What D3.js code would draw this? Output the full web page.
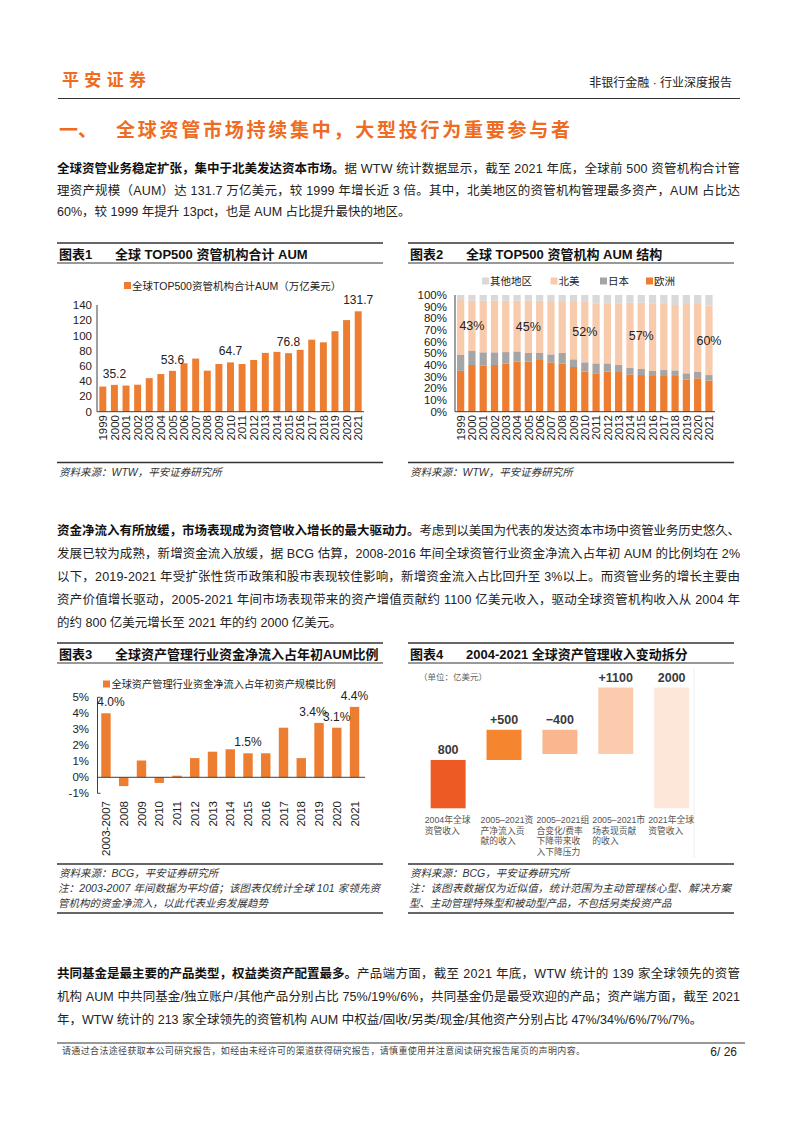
<!DOCTYPE html>
<html><head><meta charset="utf-8">
<script src="https://cdn.jsdelivr.net/npm/d3@7/dist/d3.min.js"></script>
<style>
html,body{margin:0;padding:0;background:#fff;}
svg{display:block;}
text{font-family:"Liberation Sans","Noto Sans CJK SC",sans-serif;}
</style></head><body>
<svg id="page" width="802" height="1133"></svg>
<script>
// ---------------- DATA ----------------
const years = ["1999","2000","2001","2002","2003","2004","2005","2006","2007","2008","2009","2010","2011","2012","2013","2014","2015","2016","2017","2018","2019","2020","2021"];
const aumTotal = [33.0,35.2,34.3,35.4,44.0,49.4,53.6,63.5,69.7,53.8,62.6,64.7,62.6,67.9,77.2,78.5,76.8,81.2,94.5,91.0,105.6,120.2,131.7];
const aumLabelYears = ["2000","2005","2010","2015","2021"];
const aumTicks = [0,20,40,60,80,100,120,140];

const regionKeys = ["欧洲","日本","北美","其他地区"];
const legendOrder = ["其他地区","北美","日本","欧洲"];
const shareEurope = [35.0,40.0,39.7,40.0,41.4,42.9,43.1,44.3,42.3,41.4,38.3,34.3,32.9,34.3,34.0,32.0,31.4,30.6,30.6,30.6,27.7,28.6,26.6];
const shareJapan  = [13.6,12.0,11.2,10.9,9.7,8.8,7.2,6.0,6.8,8.9,6.6,8.0,8.5,7.1,6.0,5.7,5.2,4.3,5.1,4.8,5.2,5.4,4.8];
const shareNA     = [47.1,43.1,44.2,44.2,44.0,43.4,44.8,44.8,44.9,43.7,49.1,51.8,51.5,51.5,52.9,55.7,56.8,58.0,57.2,56.0,59.4,58.3,59.6];
const shareOther  = [4.3,4.9,4.9,4.9,4.9,4.9,4.9,4.9,6.0,6.0,6.0,5.9,7.1,7.1,7.1,6.6,6.6,7.1,7.1,8.6,7.7,7.7,9.0];
const naLabelYears = ["2000","2005","2010","2015","2021"];
const shareTicks = [0,10,20,30,40,50,60,70,80,90,100];

const flowCats = ["2003-2007","2008","2009","2010","2011","2012","2013","2014","2015","2016","2017","2018","2019","2020","2021"];
const flowValues = [4.0,-0.55,1.05,-0.35,0.1,1.2,1.6,1.75,1.5,1.5,3.1,1.2,3.4,3.1,4.4];
const flowLabelCats = ["2003-2007","2015","2019","2020","2021"];
const flowTicks = [-1,0,1,2,3,4,5];

const wfCats = [["2004年全球","资管收入"],["2005–2021资","产净流入贡","献的收入"],["2005–2021组","合变化/费率","下降带来收","入下降压力"],["2005–2021市","场表现贡献","的收入"],["2021年全球","资管收入"]];
const wfValues = [800,500,-400,1100,2000];
const wfTypes = ["total","delta","delta","delta","total"];

// ---------------- STYLE ----------------
const ORANGE = "#EE6B21";
const BAR = "#ED7D31";
const regionColors = {"欧洲":"#ED7D31","日本":"#A5A5A5","北美":"#F8CBAD","其他地区":"#D9D9D9"};
const wfColors = ["#EE5A24","#F5862F","#F9B68F","#FCCBAD","#FDE7D9"];
const TXT = "#222";

const svg = d3.select("#page");
svg.append("rect").attr("width",802).attr("height",1133).attr("fill","#fff");

// ---------------- HEADER ----------------
svg.append("text").attr("x",62).attr("y",86).attr("font-size",17).attr("font-weight","bold")
  .attr("fill",ORANGE).attr("textLength",84).attr("lengthAdjust","spacing").text("平安证券");
svg.append("text").attr("x",732).attr("y",87).attr("font-size",12).attr("text-anchor","end")
  .attr("fill",TXT).text("非银行金融 · 行业深度报告");
svg.append("line").attr("x1",58).attr("x2",740).attr("y1",98.5).attr("y2",98.5).attr("stroke","#333").attr("stroke-width",1.2);

svg.append("text").attr("x",59).attr("y",137).attr("font-size",19).attr("font-weight","bold").attr("fill",ORANGE).text("一、");
svg.append("text").attr("x",116).attr("y",137).attr("font-size",19).attr("font-weight","bold").attr("fill",ORANGE)
  .attr("textLength",454).attr("lengthAdjust","spacing").text("全球资管市场持续集中，大型投行为重要参与者");

// ---------------- PARAGRAPHS ----------------
function para(lines, y0, lh){
  const x0 = 57, x1 = 740;
  lines.forEach((ln,i)=>{
    const y = y0 + i*lh;
    let x = x0;
    if(ln.b){
      const t = svg.append("text").attr("x",x0).attr("y",y).attr("font-size",12.5).attr("font-weight","bold").attr("fill","#111").text(ln.b);
      x = x0 + t.node().getComputedTextLength();
    }
    const t2 = svg.append("text").attr("x",x).attr("y",y).attr("font-size",12.5).attr("fill",TXT).text(ln.t);
    if(ln.j) t2.attr("textLength", x1 - x).attr("lengthAdjust","spacing");
  });
}
para([
  {b:"全球资管业务稳定扩张，集中于北美发达资本市场。", t:"据 WTW 统计数据显示，截至 2021 年底，全球前 500 资管机构合计管", j:true},
  {t:"理资产规模（AUM）达 131.7 万亿美元，较 1999 年增长近 3 倍。其中，北美地区的资管机构管理最多资产，AUM 占比达", j:true},
  {t:"60%，较 1999 年提升 13pct，也是 AUM 占比提升最快的地区。"}
], 173, 21.7);
para([
  {b:"资金净流入有所放缓，市场表现成为资管收入增长的最大驱动力。", t:"考虑到以美国为代表的发达资本市场中资管业务历史悠久、", j:true},
  {t:"发展已较为成熟，新增资金流入放缓，据 BCG 估算，2008-2016 年间全球资管行业资金净流入占年初 AUM 的比例均在 2%", j:true},
  {t:"以下，2019-2021 年受扩张性货币政策和股市表现较佳影响，新增资金流入占比回升至 3%以上。而资管业务的增长主要由", j:true},
  {t:"资产价值增长驱动，2005-2021 年间市场表现带来的资产增值贡献约 1100 亿美元收入，驱动全球资管机构收入从 2004 年", j:true},
  {t:"的约 800 亿美元增长至 2021 年的约 2000 亿美元。"}
], 535, 23);
para([
  {b:"共同基金是最主要的产品类型，权益类资产配置最多。", t:"产品端方面，截至 2021 年底，WTW 统计的 139 家全球领先的资管", j:true},
  {t:"机构 AUM 中共同基金/独立账户/其他产品分别占比 75%/19%/6%，共同基金仍是最受欢迎的产品；资产端方面，截至 2021", j:true},
  {t:"年，WTW 统计的 213 家全球领先的资管机构 AUM 中权益/固收/另类/现金/其他资产分别占比 47%/34%/6%/7%/7%。"}
], 978, 23);

// ---------------- CHART FRAME ----------------
function frame(x0, x1, yTop, num, title, yBottom, source, note){
  svg.append("line").attr("x1",x0).attr("x2",x1).attr("y1",yTop).attr("y2",yTop).attr("stroke","#333").attr("stroke-width",1.3);
  svg.append("text").attr("x",x0+2).attr("y",yTop+16).attr("font-size",13).attr("font-weight","bold").attr("fill","#111").text(num);
  svg.append("text").attr("x",x0+58).attr("y",yTop+16).attr("font-size",13).attr("font-weight","bold").attr("fill","#111").text(title);
  svg.append("line").attr("x1",x0).attr("x2",x1).attr("y1",yTop+20).attr("y2",yTop+20).attr("stroke","#333").attr("stroke-width",1);
  svg.append("line").attr("x1",x0).attr("x2",x1).attr("y1",yBottom).attr("y2",yBottom).attr("stroke","#333").attr("stroke-width",1.3);
  svg.append("text").attr("x",x0+2).attr("y",yBottom+13).attr("font-size",10.5).attr("font-style","italic").attr("fill","#333").text(source);
  if(note){
    note.forEach((n,i)=>{
      const t = svg.append("text").attr("x",x0+1).attr("y",yBottom+28+i*14.5).attr("font-size",10.5).attr("font-style","italic").attr("fill","#333").text(n);
      if(i===0) t.attr("textLength", x1-x0-4).attr("lengthAdjust","spacing");
    });
    svg.append("line").attr("x1",x0).attr("x2",x1).attr("y1",yBottom+49).attr("y2",yBottom+49).attr("stroke","#333").attr("stroke-width",1.3);
  }
}
frame(57,383,243,"图表1","全球 TOP500 资管机构合计 AUM",462.5,"资料来源：WTW，平安证券研究所");
frame(408,734,243,"图表2","全球 TOP500 资管机构 AUM 结构",462.5,"资料来源：WTW，平安证券研究所");
frame(57,383,643,"图表3","全球资产管理行业资金净流入占年初AUM比例",864,"资料来源：BCG，平安证券研究所",
  ["注：2003-2007 年间数据为平均值；该图表仅统计全球 101 家领先资","管机构的资金净流入，以此代表业务发展趋势"]);
frame(408,734,643,"图表4","2004-2021 全球资产管理收入变动拆分",864,"资料来源：BCG，平安证券研究所",
  ["注：该图表数据仅为近似值，统计范围为主动管理核心型、解决方案","型、主动管理特殊型和被动型产品，不包括另类投资产品"]);

const AX = "#404040";
function rotatedX(g, scale, cats, yTop){
  g.selectAll(null).data(cats).join("text")
    .attr("transform", d=>`translate(${scale(d)+scale.bandwidth()/2},${yTop}) rotate(-90)`)
    .attr("text-anchor","end").attr("dy","0.36em").attr("font-size",11.5).attr("fill",TXT).text(d=>d);
}

// ---------------- CHART 1 ----------------
{
  const g = svg.append("g");
  const x = d3.scaleBand().domain(years).range([97,364]).paddingInner(0.4).paddingOuter(0.2);
  const y = d3.scaleLinear().domain([0,140]).range([411.7,305]);
  g.selectAll(null).data(aumTicks).join("text").attr("x",92).attr("y",d=>y(d)).attr("dy","0.35em")
    .attr("text-anchor","end").attr("font-size",11.5).attr("fill",TXT).text(d=>d);
  g.selectAll(null).data(years).join("rect").attr("x",d=>x(d)).attr("width",x.bandwidth())
    .attr("y",(d,i)=>y(aumTotal[i])).attr("height",(d,i)=>y(0)-y(aumTotal[i])).attr("fill",BAR);
  g.append("line").attr("x1",97).attr("x2",97).attr("y1",y(140)).attr("y2",y(0)).attr("stroke",AX);
  g.append("line").attr("x1",97).attr("x2",364).attr("y1",y(0)).attr("y2",y(0)).attr("stroke",AX);
  g.selectAll(null).data(aumLabelYears).join("text").attr("x",d=>x(d)+x.bandwidth()/2)
    .attr("y",d=>y(aumTotal[years.indexOf(d)])-7).attr("text-anchor","middle").attr("font-size",12).attr("fill",TXT)
    .text(d=>aumTotal[years.indexOf(d)].toFixed(1));
  rotatedX(g, x, years, 415);
  g.append("rect").attr("x",124).attr("y",282).attr("width",7).attr("height",7).attr("fill",BAR);
  g.append("text").attr("x",132).attr("y",289.5).attr("font-size",10.5).attr("fill",TXT).text("全球TOP500资管机构合计AUM（万亿美元）");
}

// ---------------- CHART 2 ----------------
{
  const g = svg.append("g");
  const x = d3.scaleBand().domain(years).range([455,714.6]).paddingInner(0.36).paddingOuter(0.18);
  const y = d3.scaleLinear().domain([0,100]).range([411.7,295]);
  const rows = years.map((yr,i)=>({year:yr,"欧洲":shareEurope[i],"日本":shareJapan[i],"北美":shareNA[i],"其他地区":shareOther[i]}));
  const series = d3.stack().keys(regionKeys)(rows);
  g.selectAll(null).data(shareTicks).join("text").attr("x",447).attr("y",d=>y(d)).attr("dy","0.35em")
    .attr("text-anchor","end").attr("font-size",11.5).attr("fill",TXT).text(d=>d+"%");
  g.selectAll("g.s").data(series).join("g").attr("fill",d=>regionColors[d.key])
    .selectAll("rect").data(d=>d).join("rect")
    .attr("x",d=>x(d.data.year)).attr("width",x.bandwidth())
    .attr("y",d=>y(d[1])).attr("height",d=>y(d[0])-y(d[1]));
  g.append("line").attr("x1",455).attr("x2",455).attr("y1",y(100)).attr("y2",y(0)).attr("stroke",AX);
  g.append("line").attr("x1",455).attr("x2",715).attr("y1",y(0)).attr("y2",y(0)).attr("stroke",AX);
  const na = series.find(s=>s.key==="北美");
  g.selectAll(null).data(naLabelYears).join("text")
    .attr("x",d=>x(d)+x.bandwidth()/2)
    .attr("y",d=>{const p=na[years.indexOf(d)]; return y((p[0]+p[1])/2);})
    .attr("dy","0.35em").attr("text-anchor","middle").attr("font-size",12.5).attr("fill",TXT)
    .text(d=>Math.round(shareNA[years.indexOf(d)])+"%");
  rotatedX(g, x, years, 415);
  const legPos = {"其他地区":482,"北美":550.5,"日本":600,"欧洲":646};
  legendOrder.forEach(k=>{
    g.append("rect").attr("x",legPos[k]).attr("y",277.5).attr("width",7).attr("height",7).attr("fill",regionColors[k]);
    g.append("text").attr("x",legPos[k]+8).attr("y",285).attr("font-size",10.5).attr("fill",TXT).text(k);
  });
}

// ---------------- CHART 3 ----------------
{
  const g = svg.append("g");
  const x = d3.scaleBand().domain(flowCats).range([97,363.5]).paddingInner(0.47).paddingOuter(0.24);
  const y = d3.scaleLinear().domain([-1,5]).range([793.3,697.3]);
  g.selectAll(null).data(flowTicks).join("text").attr("x",89).attr("y",d=>y(d)).attr("dy","0.35em")
    .attr("text-anchor","end").attr("font-size",11.5).attr("fill",TXT).text(d=>d+"%");
  g.selectAll(null).data(flowCats).join("rect").attr("x",d=>x(d)).attr("width",x.bandwidth())
    .attr("y",(d,i)=>y(Math.max(0,flowValues[i]))).attr("height",(d,i)=>Math.abs(y(flowValues[i])-y(0))).attr("fill",BAR);
  g.append("line").attr("x1",97.5).attr("x2",97.5).attr("y1",y(5)).attr("y2",y(-1)).attr("stroke",AX);
  [5,-1].forEach(v=>g.append("line").attr("x1",97.5).attr("x2",100.5).attr("y1",y(v)).attr("y2",y(v)).attr("stroke",AX));
  g.append("line").attr("x1",97.5).attr("x2",365).attr("y1",y(0)).attr("y2",y(0)).attr("stroke",AX);
  const nudge = {"2003-2007":5,"2019":-6};
  g.selectAll(null).data(flowLabelCats).join("text")
    .attr("x",d=>x(d)+x.bandwidth()/2+(nudge[d]||0))
    .attr("y",d=>y(flowValues[flowCats.indexOf(d)])-7).attr("text-anchor","middle").attr("font-size",12).attr("fill",TXT)
    .text(d=>flowValues[flowCats.indexOf(d)].toFixed(1)+"%");
  rotatedX(g, x, flowCats, 801);
  g.append("rect").attr("x",103).attr("y",680.5).attr("width",7).attr("height",7).attr("fill",BAR);
  g.append("text").attr("x",111.5).attr("y",688).attr("font-size",10.2).attr("fill",TXT).text("全球资产管理行业资金净流入占年初资产规模比例");
}

// ---------------- CHART 4 ----------------
{
  const g = svg.append("g");
  const idx = wfValues.map((d,i)=>i);
  const x = d3.scaleBand().domain(idx).range([420.2,699.6]).paddingInner(0.374).paddingOuter(0.187);
  const y = d3.scaleLinear().domain([0,2000]).range([808.3,687.5]);
  let cum = 0;
  const bars = wfValues.map((v,i)=>{
    let lo, hi;
    if(wfTypes[i]==="total"){ lo=0; hi=v; cum=v; }
    else { lo=Math.min(cum,cum+v); hi=Math.max(cum,cum+v); cum+=v; }
    return {i, lo, hi, v, label: wfTypes[i]==="total" ? String(v) : (v>0?"+"+v:"−"+Math.abs(v))};
  });
  g.append("line").attr("x1",694).attr("x2",694).attr("y1",668).attr("y2",858).attr("stroke","#eeeeee");
  g.append("text").attr("x",419).attr("y",680).attr("font-size",8.5).attr("fill","#666").text("（单位：亿美元）");
  g.selectAll(null).data(bars).join("rect").attr("x",d=>x(d.i)).attr("width",x.bandwidth())
    .attr("y",d=>y(d.hi)).attr("height",d=>y(d.lo)-y(d.hi)).attr("fill",d=>wfColors[d.i]);
  g.selectAll(null).data(bars).join("text").attr("x",d=>x(d.i)+x.bandwidth()/2).attr("y",d=>y(d.hi)-6)
    .attr("text-anchor","middle").attr("font-size",12.5).attr("font-weight","bold").attr("fill","#3a3a3a").text(d=>d.label);
  wfCats.forEach((lines,i)=>{
    lines.forEach((s,j)=>{
      g.append("text").attr("x",x(i)-6).attr("y",823+j*10.5).attr("font-size",8.8).attr("fill","#555").text(s);
    });
  });
}

// ---------------- FOOTER ----------------
svg.append("line").attr("x1",57).attr("x2",745).attr("y1",1043).attr("y2",1043).attr("stroke","#333").attr("stroke-width",1);
svg.append("text").attr("x",62).attr("y",1054).attr("font-size",9).attr("fill","#444")
  .attr("textLength",523).attr("lengthAdjust","spacing").text("请通过合法途径获取本公司研究报告，如经由未经许可的渠道获得研究报告，请慎重使用并注意阅读研究报告尾页的声明内容。");
svg.append("text").attr("x",737).attr("y",1056).attr("font-size",12).attr("text-anchor","end").attr("fill",TXT).text("6/ 26");
</script>
</body></html>
